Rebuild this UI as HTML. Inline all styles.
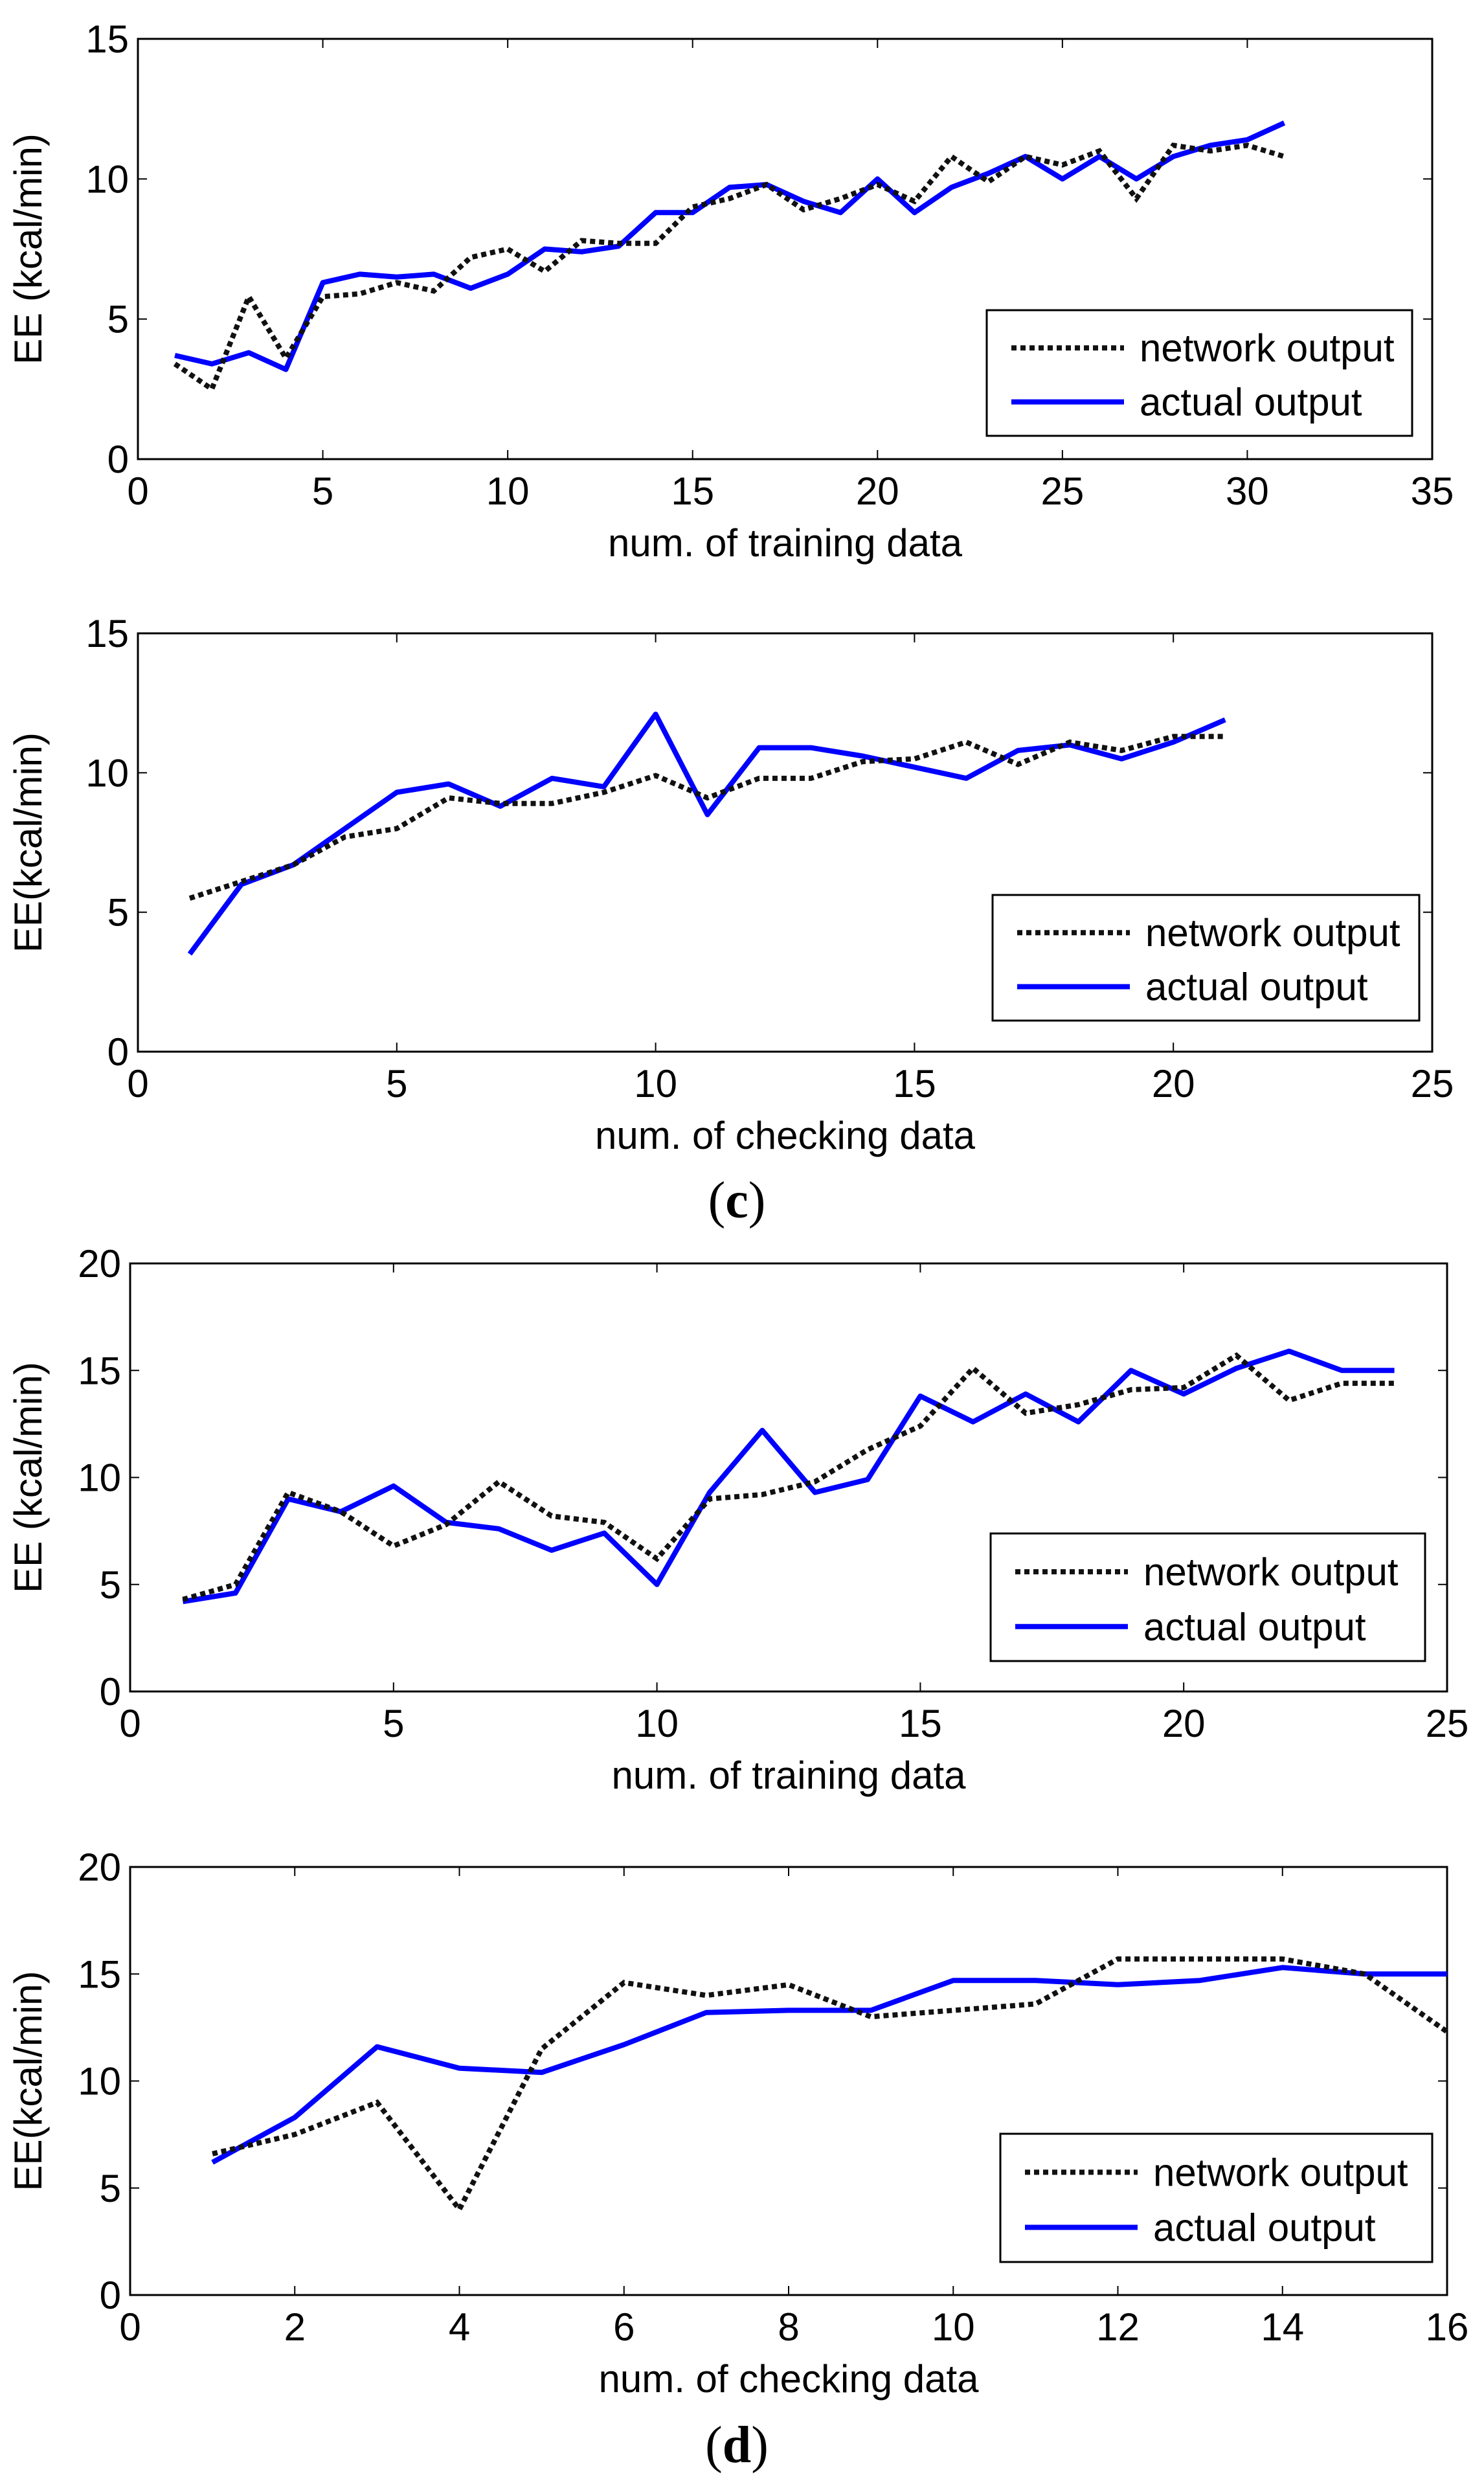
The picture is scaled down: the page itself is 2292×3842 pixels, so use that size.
<!DOCTYPE html>
<html><head><meta charset="utf-8"><style>
html,body{margin:0;padding:0;background:#fff;}
svg{display:block;}
text{font-family:"Liberation Sans",sans-serif;fill:#000;}
</style></head><body>
<svg id="fig" width="2292" height="3842" viewBox="0 0 2292 3842" xmlns="http://www.w3.org/2000/svg">
<text x="1138" y="1880" font-size="80" text-anchor="middle" style="font-family:'Liberation Serif',serif">(<tspan font-weight="bold">c</tspan>)</text>
<text x="1138" y="3802" font-size="80" text-anchor="middle" style="font-family:'Liberation Serif',serif">(<tspan font-weight="bold">d</tspan>)</text>
</svg>
<script>
// ---- data ----
const c1Actual=[3.7,3.4,3.8,3.2,6.3,6.6,6.5,6.6,6.1,6.6,7.5,7.4,7.6,8.8,8.8,9.7,9.8,9.2,8.8,10.0,8.8,9.7,10.2,10.8,10.0,10.8,10.0,10.8,11.2,11.4,12.0];
const c1Network=[3.4,2.5,5.8,3.6,5.8,5.9,6.3,6.0,7.2,7.5,6.7,7.8,7.7,7.7,9.0,9.3,9.8,8.9,9.3,9.8,9.2,10.8,9.9,10.8,10.5,11.0,9.3,11.2,11.0,11.2,10.8];
const c2Actual=[3.5,6.0,6.7,8.0,9.3,9.6,8.8,9.8,9.5,12.1,8.5,10.9,10.9,10.6,10.2,9.8,10.8,11.0,10.5,11.1,11.9];
const c2Network=[5.5,6.1,6.7,7.7,8.0,9.1,8.9,8.9,9.3,9.9,9.1,9.8,9.8,10.4,10.5,11.1,10.3,11.1,10.8,11.3,11.3];
const d1Actual=[4.2,4.6,9.0,8.4,9.6,7.9,7.6,6.6,7.4,5.0,9.3,12.2,9.3,9.9,13.8,12.6,13.9,12.6,15.0,13.9,15.1,15.9,15.0,15.0];
const d1Network=[4.3,5.0,9.3,8.4,6.8,7.8,9.8,8.2,7.9,6.2,9.0,9.2,9.8,11.3,12.4,15.1,13.0,13.4,14.1,14.2,15.7,13.6,14.4,14.4];
const d2Actual=[6.2,8.3,11.6,10.6,10.4,11.7,13.2,13.3,13.3,14.7,14.7,14.5,14.7,15.3,15.0,15.0];
const d2Network=[6.6,7.5,9.0,4.0,11.5,14.6,14.0,14.5,13.0,13.3,13.6,15.7,15.7,15.7,15.0,12.3];
const xt1=[0,5,10,15,20,25,30,35], yt1=[0,5,10,15];
const xt2=[0,5,10,15,20,25], yt2=[0,5,10,15];
const xt3=[0,5,10,15,20,25], yt3=[0,5,10,15,20];
const xt4=[0,2,4,6,8,10,12,14,16], yt4=[0,5,10,15,20];
const xlab=["num. of training data","num. of checking data","num. of training data","num. of checking data"];
const ylab=["EE (kcal/min)","EE(kcal/min)","EE (kcal/min)","EE(kcal/min)"];

const NS="http://www.w3.org/2000/svg";
const svg=document.getElementById('fig');
function mk(tag,attrs,parent){const e=document.createElementNS(NS,tag);for(const k in attrs)e.setAttribute(k,attrs[k]);(parent||svg).appendChild(e);return e;}
const FS=60;
function panel(id,box,xt,yt,act,net,legend,xl,yl){
  const g=mk('g',{});
  
  
  const [L,T,R,B]=box;
  const xmax=xt[xt.length-1], ymax=yt[yt.length-1];
  const sx=v=>L+(v/xmax)*(R-L), sy=v=>B-(v/ymax)*(B-T);
  const frame=mk('rect',{x:L,y:T,width:R-L,height:B-T,fill:'none',stroke:'#000','stroke-width':3},g);
  
  
  xt.forEach(v=>{
    const x=sx(v);
    mk('line',{x1:x,y1:B,x2:x,y2:B-14,stroke:'#000','stroke-width':2},g);
    mk('line',{x1:x,y1:T,x2:x,y2:T+14,stroke:'#000','stroke-width':2},g);
    const t=mk('text',{x:x,y:B+70,'font-size':FS,'text-anchor':'middle'},g);
    t.textContent=v;
    
    
  });
  yt.forEach(v=>{
    const y=sy(v);
    mk('line',{x1:L,y1:y,x2:L+14,y2:y,stroke:'#000','stroke-width':2},g);
    mk('line',{x1:R,y1:y,x2:R-14,y2:y,stroke:'#000','stroke-width':2},g);
    const t=mk('text',{x:L-14,y:y+21,'font-size':FS,'text-anchor':'end'},g);
    t.textContent=v;
    
    
  });
  const xtl=mk('text',{x:(L+R)/2,y:B+150,'font-size':FS,'text-anchor':'middle'},g);
  xtl.textContent=xl;
  
  
  const yx=64, yc=(T+B)/2;
  const ytl=mk('text',{x:yx,y:yc,'font-size':FS,'text-anchor':'middle',transform:`rotate(-90 ${yx} ${yc})`},g);
  ytl.textContent=yl;
  
  
  const pts=a=>a.map((v,i)=>sx(i+1).toFixed(1)+','+sy(v).toFixed(1)).join(' ');
  const pa=mk('polyline',{points:pts(act),fill:'none',stroke:'#0000ff','stroke-width':8,'stroke-linejoin':'round'},g);
  
  
  const pn=mk('polyline',{points:pts(net),fill:'none',stroke:'#111','stroke-width':8,'stroke-dasharray':'8 6'},g);
  
  
  const [lx,ly,lr,lb]=legend;
  const lg=mk('g',{},g);
  
  
  mk('rect',{x:lx,y:ly,width:lr-lx,height:lb-ly,fill:'#fff',stroke:'#000','stroke-width':3},lg);
  const r1=ly+(lb-ly)*0.30, r2=ly+(lb-ly)*0.73;
  mk('line',{x1:lx+38,y1:r1,x2:lx+212,y2:r1,stroke:'#111','stroke-width':8,'stroke-dasharray':'8 6'},lg);
  mk('line',{x1:lx+38,y1:r2,x2:lx+212,y2:r2,stroke:'#0000ff','stroke-width':8},lg);
  const t1=mk('text',{x:lx+236,y:r1+21,'font-size':FS},lg);
  t1.textContent='network output';
  
  
  const t2=mk('text',{x:lx+236,y:r2+21,'font-size':FS},lg);
  t2.textContent='actual output';
  
  
}
panel('chart-c-training',[213,60,2212,709],xt1,yt1,c1Actual,c1Network,[1524,479,2181,673],xlab[0],ylab[0]);
panel('chart-c-checking',[213,978,2212,1624],xt2,yt2,c2Actual,c2Network,[1533,1382,2192,1576],xlab[1],ylab[1]);
panel('chart-d-training',[201,1951,2235,2612],xt3,yt3,d1Actual,d1Network,[1530,2368,2201,2565],xlab[2],ylab[2]);
panel('chart-d-checking',[201,2883,2235,3544],xt4,yt4,d2Actual,d2Network,[1545,3295,2212,3493],xlab[3],ylab[3]);
</script>
</body></html>
